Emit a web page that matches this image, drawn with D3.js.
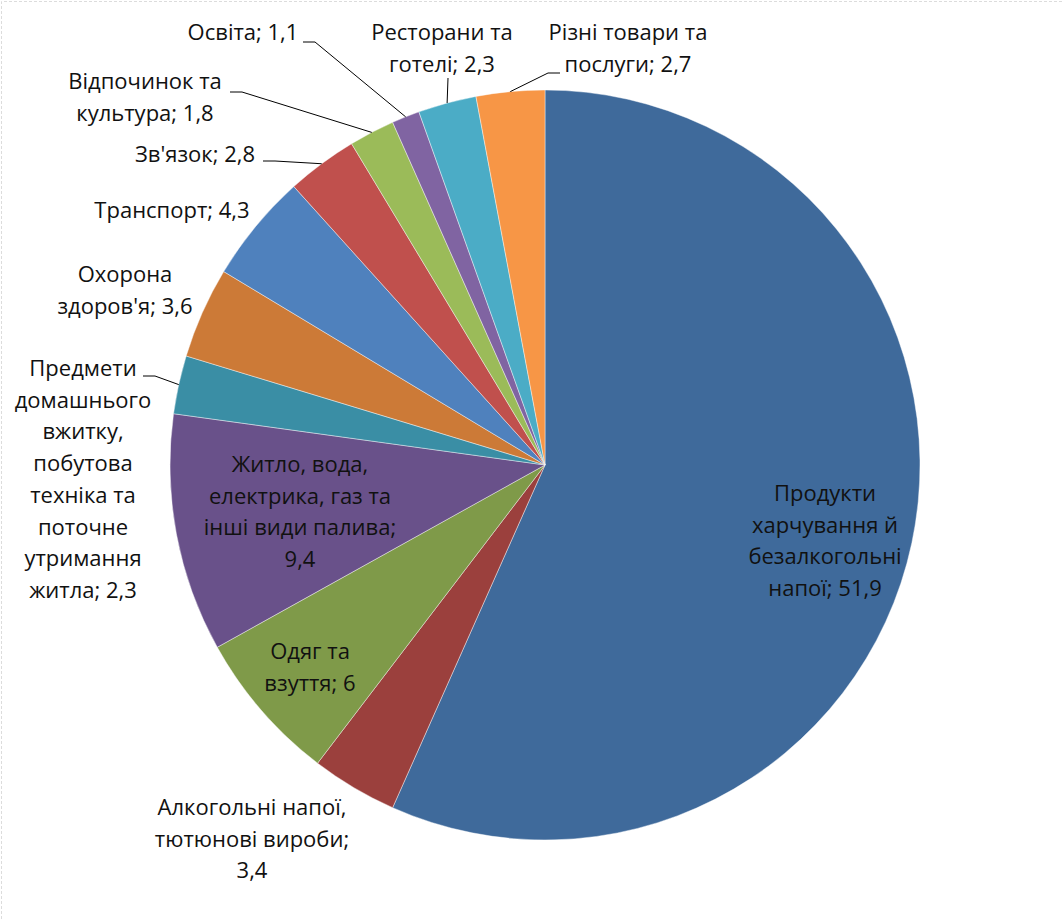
<!DOCTYPE html>
<html>
<head>
<meta charset="utf-8">
<script src="https://cdn.jsdelivr.net/npm/d3@7"></script>
<style>
  body { margin: 0; background: #fff; }
  svg text { font-family: "Open Sans", "Noto Sans", sans-serif; fill: #111; }
</style>
</head>
<body>
<svg id="chart" width="1064" height="919"></svg>
<script>
// data
const categories = [
    "Продукти харчування й безалкогольні напої",
    "Алкогольні напої, тютюнові вироби",
    "Одяг та взуття",
    "Житло, вода, електрика, газ та інші види палива",
    "Предмети домашнього вжитку, побутова техніка та поточне утримання житла",
    "Охорона здоров'я",
    "Транспорт",
    "Зв'язок",
    "Відпочинок та культура",
    "Освіта",
    "Ресторани та готелі",
    "Різні товари та послуги"
];
const values = [51.9, 3.4, 6, 9.4, 2.3, 3.6, 4.3, 2.8, 1.8, 1.1, 2.3, 2.7];
const colors = ["#3F6A9B", "#9B403D", "#7F9A49", "#69518A", "#3A8EA5", "#CC7A37",
                "#4F81BD", "#C0504D", "#9BBB59", "#8064A2", "#4BACC6", "#F79646"];

// label layout: words per line, centre x, first baseline, leader start (if any)
const labelLayout = [
    { words: [1, 2, 1, 2], x: 825, y: 501 },
    { words: [2, 2, 1], x: 252, y: 815 },
    { words: [2, 2], x: 310, y: 659 },
    { words: [2, 3, 3, 1], x: 300, y: 472 },
    { words: [1, 1, 1, 1, 2, 1, 1, 2], x: 83, y: 376, lh: 31.7, leader: [[143, 376], [155, 376]] },
    { words: [1, 2], x: 125, y: 282 },
    { words: [2], x: 172, y: 218 },
    { words: [2], x: 195, y: 162, leader: [[263, 161], [275, 161]] },
    { words: [2, 2], x: 145, y: 89, leader: [[230, 92], [242, 92]] },
    { words: [2], x: 243, y: 40, leader: [[303, 42], [315, 42]] },
    { words: [2, 2], x: 442, y: 40, leader: [[448, 78]] },
    { words: [3, 2], x: 628, y: 40, leader: [[560, 73], [548, 73]] }
];

const width = 1064, height = 919;
const cx = 545, cy = 465, radius = 375;
const fontSize = 22, lineHeight = 31.5;

const svg = d3.select("#chart");

// faint frame along top and left
svg.append("path")
    .attr("d", `M1.5,${height} L1.5,1.5 L${width},1.5`)
    .attr("fill", "none")
    .attr("stroke", "#dcdcdc")
    .attr("stroke-dasharray", "3,2");

const g = svg.append("g")
    .attr("transform", `translate(${cx},${cy})`);

const pie = d3.pie().sort(null).value(d => d);
const arcs = pie(values);

const arc = d3.arc().innerRadius(0).outerRadius(radius);
const edgeArc = d3.arc().innerRadius(radius).outerRadius(radius);

g.selectAll(".slice")
    .data(arcs)
    .enter()
    .append("path")
    .attr("class", "slice")
    .attr("d", arc)
    .attr("fill", (d, i) => colors[i])
    .attr("stroke", "#ffffff")
    .attr("stroke-opacity", 0.6)
    .attr("stroke-width", 0.7);

const fmt = v => String(v).replace(".", ",");

// leader lines
arcs.forEach((d, i) => {
    const lay = labelLayout[i];
    if (!lay.leader) return;
    const end = edgeArc.centroid(d);
    const pts = lay.leader.map(p => [p[0] - cx, p[1] - cy]);
    pts.push(end);
    g.append("path")
        .attr("d", d3.line()(pts))
        .attr("fill", "none")
        .attr("stroke", "#000")
        .attr("stroke-width", 1);
});

// labels
arcs.forEach((d, i) => {
    const lay = labelLayout[i];
    const words = (categories[i] + "; " + fmt(values[i])).split(" ");
    const lines = [];
    let k = 0;
    lay.words.forEach(n => {
        lines.push(words.slice(k, k + n).join(" "));
        k += n;
    });
    const lh = lay.lh || lineHeight;
    const t = svg.append("text")
        .attr("text-anchor", "middle")
        .style("font-size", fontSize + "px");
    lines.forEach((s, j) => {
        t.append("tspan")
            .attr("x", lay.x)
            .attr("y", lay.y + j * lh)
            .text(s);
    });
});
</script>
</body>
</html>
